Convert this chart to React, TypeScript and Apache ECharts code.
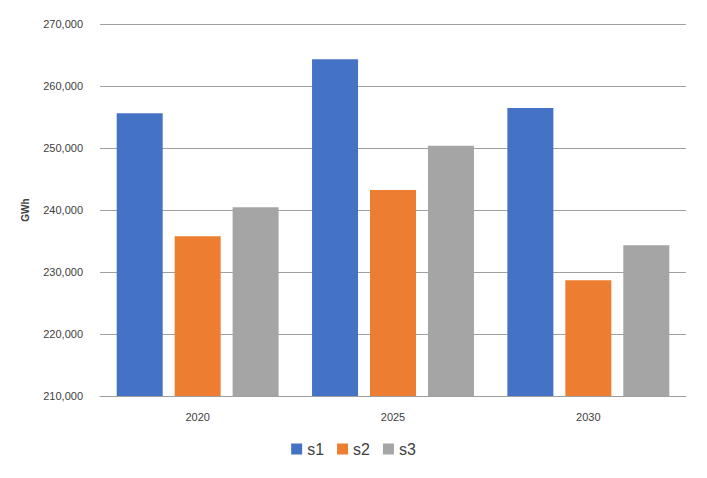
import React, { useEffect, useRef } from "react";
import * as echarts from "echarts";

const categories = ["2020", "2025", "2030"];
const seriesNames = ["s1", "s2", "s3"];
const s1Values = [255600, 264300, 256450];
const s2Values = [235760, 243230, 228660];
const s3Values = [240430, 250380, 234300];
const colors = ["#4472C4", "#ED7D31", "#A5A5A5"];
const yTicks = { min: 210000, max: 270000, interval: 10000 };

export default function App() {
  const ref = useRef<HTMLDivElement>(null);
  useEffect(() => {
    if (!ref.current) return;
    const chart = echarts.init(ref.current, undefined, { renderer: "svg" });
    const font = "'Liberation Sans', Arial, sans-serif";
    const values = [s1Values, s2Values, s3Values];
    chart.setOption({
      animation: false,
      backgroundColor: "#ffffff",
      textStyle: { fontFamily: font },
      grid: { left: 100, right: 21, top: 24, bottom: 82, containLabel: false },
      legend: {
        data: seriesNames,
        bottom: 16,
        left: "center",
        itemWidth: 11,
        itemHeight: 11,
        itemGap: 13,
        icon: "rect",
        textStyle: { fontSize: 16, color: "#404040", fontFamily: font },
      },
      xAxis: {
        type: "category",
        data: categories,
        axisTick: { show: false },
        axisLine: { show: true, lineStyle: { color: "#a0a0a0", width: 1 } },
        axisLabel: { color: "#404040", fontSize: 11, margin: 15, fontFamily: font },
      },
      yAxis: {
        type: "value",
        min: yTicks.min,
        max: yTicks.max,
        interval: yTicks.interval,
        name: "GWh",
        nameLocation: "middle",
        nameGap: 70,
        nameRotate: 90,
        nameTextStyle: { fontSize: 10, fontWeight: "bold", color: "#404040", fontFamily: font },
        axisLine: { show: false },
        axisTick: { show: false },
        splitLine: { lineStyle: { color: "#a0a0a0", width: 1 } },
        axisLabel: {
          color: "#404040",
          fontSize: 11,
          margin: 17,
          fontFamily: font,
          formatter: (v: number) => v.toLocaleString("en-US"),
        },
      },
      series: seriesNames.map((name, i) => ({
        name,
        type: "bar",
        data: values[i],
        barWidth: 46,
        barGap: "26%",
        itemStyle: { color: colors[i] },
      })),
    });
    return () => chart.dispose();
  }, []);
  return (
    <div
      ref={ref}
      style={{ position: "fixed", left: 0, top: 0, width: 707, height: 478 }}
    />
  );
}
